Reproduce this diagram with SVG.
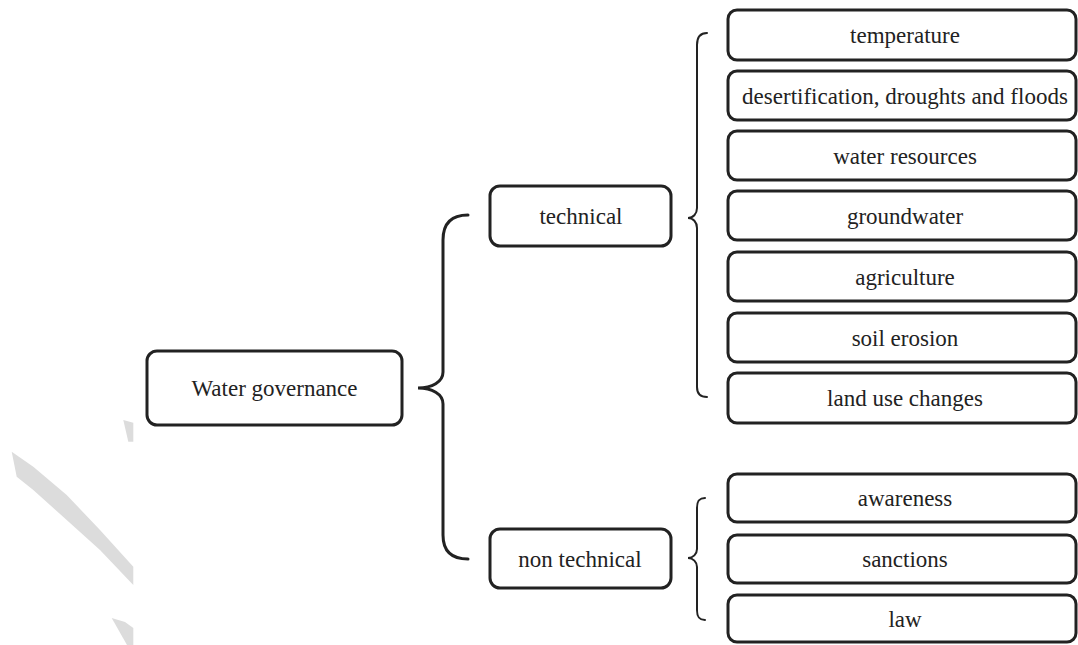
<svg xmlns="http://www.w3.org/2000/svg" width="1078" height="645" viewBox="0 0 1078 645">
<style>
.box{fill:#fff;stroke:#222;stroke-width:3}
.br{fill:none;stroke:#222;stroke-linecap:round}
.wm{fill:#dcdcdc}
</style>
<g id="watermark">
<polygon class="wm" points="11.7,451.7 33.3,466.7 66.7,495 100,530 133.3,566.7 133.3,585 100,550 66.7,520 33.3,490 16.7,476.7"/>
<polygon class="wm" points="123.3,420 133.3,422.7 133.3,441.7 128.3,441.7"/>
<polygon class="wm" points="111.7,618 125,622 133.3,628 133.3,645 127,645"/>
</g>
<g id="connectors">
<path class="br" stroke-width="3" d="M468,215 C453,215 443,222 443,240 L443,372 C443,382 432,388 418,388 C432,388 443,394 443,404 L443,535 C443,552 453,559 468,559"/>
<path class="br" stroke-width="2" d="M707,33 C700,33 697,37 697,45 L697,208 C697,214 693,218 688,218 C693,218 697,222 697,228 L697,387 C697,394 700,397 707,397"/>
<path class="br" stroke-width="2" d="M705,498 C699,498 697,501 697,508 L697,549 C697,554 693,558 688,558 C693,558 697,562 697,567 L697,610 C697,617 699,620 705,620"/>
</g>
<g font-family="Liberation Serif, Times New Roman, serif" font-size="23" fill="#222" text-anchor="middle">
<g id="n-water"><rect class="box" x="147" y="351" width="255" height="74" rx="10"/><text x="274.5" y="396">Water governance</text></g>
<g id="n-technical"><rect class="box" x="490" y="186" width="181" height="60" rx="10"/><text x="581" y="224">technical</text></g>
<g id="n-nontechnical"><rect class="box" x="490" y="529" width="181" height="59" rx="10"/><text x="580" y="567">non technical</text></g>
<g id="n-temperature"><rect class="box" x="728" y="10" width="348" height="50" rx="9"/><text x="905" y="43">temperature</text></g>
<g id="n-desert"><rect class="box" x="728" y="71" width="348" height="49" rx="9"/><text x="905" y="104">desertification, droughts and floods</text></g>
<g id="n-water-res"><rect class="box" x="728" y="131" width="348" height="49" rx="9"/><text x="905" y="164">water resources</text></g>
<g id="n-groundwater"><rect class="box" x="728" y="191" width="348" height="49" rx="9"/><text x="905" y="224">groundwater</text></g>
<g id="n-agriculture"><rect class="box" x="728" y="252" width="348" height="49" rx="9"/><text x="905" y="285">agriculture</text></g>
<g id="n-soil"><rect class="box" x="728" y="313" width="348" height="49" rx="9"/><text x="905" y="346">soil erosion</text></g>
<g id="n-land"><rect class="box" x="728" y="373" width="348" height="50" rx="9"/><text x="905" y="406">land use changes</text></g>
<g id="n-awareness"><rect class="box" x="728" y="474" width="348" height="48" rx="9"/><text x="905" y="506">awareness</text></g>
<g id="n-sanctions"><rect class="box" x="728" y="535" width="348" height="48" rx="9"/><text x="905" y="567">sanctions</text></g>
<g id="n-law"><rect class="box" x="728" y="595" width="348" height="47" rx="9"/><text x="905" y="627">law</text></g>
</g>
</svg>
